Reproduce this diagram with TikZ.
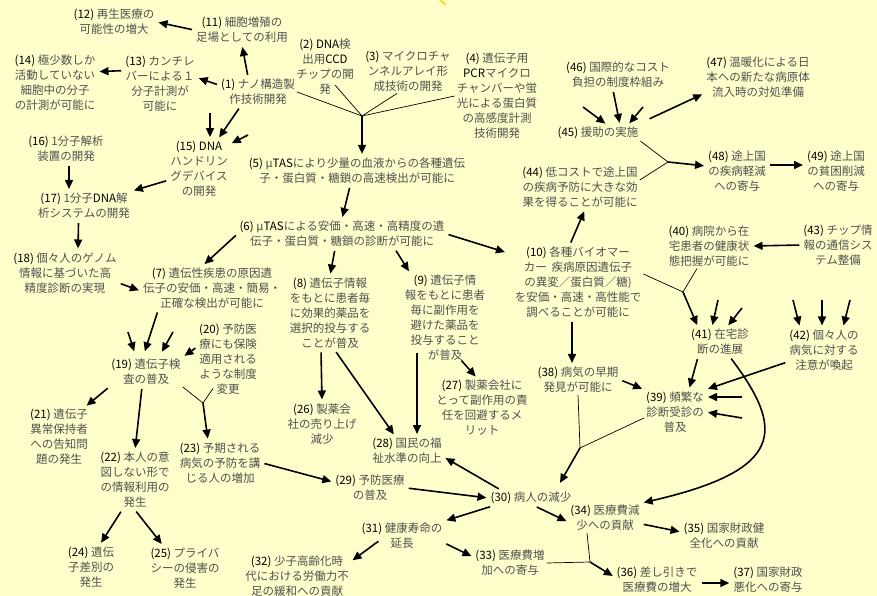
\documentclass[tikz,border=0pt]{standalone}
\usepackage{fontspec}
\setmainfont{Noto Sans CJK JP}
\usetikzlibrary{arrows.meta}
\definecolor{bgyellow}{RGB}{255,255,204}
\definecolor{txtgray}{RGB}{80,80,80}
\definecolor{marky}{RGB}{255,210,0}
\newcommand{\lbl}[1]{\textcolor{black}{(#1)}}
\newcommand{\en}[1]{\textcolor{black}{#1}}

\begin{document}
\begin{tikzpicture}[x=1pt, y=-1pt,
  box/.style={align=center, inner sep=2pt, text=txtgray,
    font=\fontsize{11.5}{15}\selectfont},
  arr/.style={-{Triangle[length=9pt,width=8pt]}, line width=1.6pt,
    shorten >=2pt, shorten <=2pt},
  fork/.style={line width=0.7pt}
]
  \fill[bgyellow] (0,0) rectangle (877,596);
  \useasboundingbox (0,0) rectangle (877,596);
  \draw[marky, line width=1.5pt] (440,0) -- (446,5);

  % --- Technology seeds ---
  \node[box] (n1)  at (258,92)  {\lbl{1} ナノ構造製\\作技術開発};
  \node[box] (n2)  at (325,67)  {\lbl{2} \en{DNA}検\\出用\en{CCD}\\チップの開\\発};
  \node[box] (n3)  at (408,71)  {\lbl{3} マイクロチャ\\ンネルアレイ形\\成技術の開発};
  \node[box] (n4)  at (497,96)  {\lbl{4} 遺伝子用\\\en{PCR}マイクロ\\チャンバーや蛍\\光による蛋白質\\の高感度計測\\技術開発};
  \node[box] (n5)  at (357,171) {\lbl{5} μ\en{TAS}により少量の血液からの各種遺伝\\子・蛋白質・糖鎖の高速検出が可能に};
  \node[box] (n6)  at (342,234) {\lbl{6} μ\en{TAS}による安価・高速・高精度の遺\\伝子・蛋白質・糖鎖の診断が可能に};

  % --- Upper left ---
  \node[box] (n11) at (242,30)  {\lbl{11} 細胞増殖の\\足場としての利用};
  \node[box] (n12) at (114,22)  {\lbl{12} 再生医療の\\可能性の増大};
  \node[box] (n13) at (160,84)  {\lbl{13} カンチレ\\バーによる１\\分子計測が\\可能に};
  \node[box] (n14) at (55,83)   {\lbl{14} 極少数しか\\活動していない\\細胞中の分子\\の計測が可能に};
  \node[box] (n15) at (199,169) {\lbl{15} \en{DNA}\\ハンドリン\\グデバイス\\の開発};
  \node[box] (n16) at (66,149)  {\lbl{16} 1分子解析\\装置の開発};
  \node[box] (n17) at (84,206)  {\lbl{17} 1分子\en{DNA}解\\析システムの開発};
  \node[box] (n18) at (65,273)  {\lbl{18} 個々人のゲノム\\情報に基づいた高\\精度診断の実現};

  % --- Gene diagnosis ---
  \node[box] (n7)  at (212,288) {\lbl{7} 遺伝性疾患の原因遺\\伝子の安価・高速・簡易・\\正確な検出が可能に};
  \node[box] (n8)  at (330,313) {\lbl{8} 遺伝子情報\\をもとに患者毎\\に効果的薬品を\\選択的投与する\\ことが普及};
  \node[box] (n9)  at (445,318) {\lbl{9} 遺伝子情\\報をもとに患者\\毎に副作用を\\避けた薬品を\\投与すること\\が普及};
  \node[box] (n19) at (146,372) {\lbl{19} 遺伝子検\\査の普及};
  \node[box] (n20) at (228,359) {\lbl{20} 予防医\\療にも保険\\適用される\\ような制度\\変更};
  \node[box] (n21) at (59,437)  {\lbl{21} 遺伝子\\異常保持者\\への告知問\\題の発生};
  \node[box] (n22) at (135,480) {\lbl{22} 本人の意\\図しない形で\\の情報利用の\\発生};
  \node[box] (n23) at (220,463) {\lbl{23} 予期される\\病気の予防を講\\じる人の増加};
  \node[box] (n24) at (91,567)  {\lbl{24} 遺伝\\子差別の\\発生};
  \node[box] (n25) at (185,568) {\lbl{25} プライバ\\シーの侵害の\\発生};
  \node[box] (n26) at (322,424) {\lbl{26} 製薬会\\社の売り上げ\\減少};
  \node[box] (n27) at (482,408) {\lbl{27} 製薬会社に\\とって副作用の責\\任を回避するメ\\リット};
  \node[box] (n28) at (407,451) {\lbl{28} 国民の福\\祉水準の向上};
  \node[box] (n29) at (370,488) {\lbl{29} 予防医療\\の普及};

  % --- Lower middle ---
  \node[box] (n30) at (531,498) {\lbl{30} 病人の減少};
  \node[box] (n31) at (402,536) {\lbl{31} 健康寿命の\\延長};
  \node[box] (n32) at (297,576) {\lbl{32} 少子高齢化時\\代における労働力不\\足の緩和への貢献};
  \node[box] (n33) at (510,563) {\lbl{33} 医療費増\\加への寄与};
  \node[box] (n34) at (605,518) {\lbl{34} 医療費減\\少への貢献};
  \node[box] (n35) at (724,536) {\lbl{35} 国家財政健\\全化への貢献};
  \node[box] (n36) at (657,580) {\lbl{36} 差し引きで\\医療費の増大};
  \node[box] (n37) at (768,580) {\lbl{37} 国家財政\\悪化への寄与};

  % --- Right side ---
  \node[box] (n10) at (578,282) {\lbl{10} 各種バイオマー\\カー\hspace{5pt}疾病原因遺伝子\\の異変／蛋白質／糖)\\を安価・高速・高性能で\\調べることが可能に};
  \node[box] (n38) at (578,380) {\lbl{38} 病気の早期\\発見が可能に};
  \node[box] (n39) at (675,412) {\lbl{39} 頻繁な\\診断受診の\\普及};
  \node[box] (n40) at (709,246) {\lbl{40} 病院から在\\宅患者の健康状\\態把握が可能に};
  \node[box] (n41) at (720,342) {\lbl{41} 在宅診\\断の進展};
  \node[box] (n42) at (824,350) {\lbl{42} 個々人の\\病気に対する\\注意が喚起};
  \node[box] (n43) at (838,245) {\lbl{43} チップ情\\報の通信シス\\テム整備};
  \node[box] (n44) at (580,187) {\lbl{44} 低コストで途上国\\の疾病予防に大きな効\\果を得ることが可能に};
  \node[box] (n45) at (598,133) {\lbl{45} 援助の実施};
  \node[box] (n46) at (618,75)  {\lbl{46} 国際的なコスト\\負担の制度枠組み};
  \node[box] (n47) at (758,77)  {\lbl{47} 温暖化による日\\本への新たな病原体\\流入時の対処準備};
  \node[box] (n48) at (737,171) {\lbl{48} 途上国\\の疾病軽減\\への寄与};
  \node[box] (n49) at (836,171) {\lbl{49} 途上国\\の貧困削減\\への寄与};

  % --- Junctions and loose arrow tails ---
  \coordinate (j5)  at (362,116);
  \coordinate (j23) at (203,403);
  \coordinate (j30) at (580,448);
  \coordinate (j36) at (590,562);
  \coordinate (j41) at (683,292);
  \coordinate (j48) at (668,162);
  \coordinate (f15a) at (210,113);
  \coordinate (f15b) at (248,135);
  \coordinate (f19a) at (128,332);
  \coordinate (f19b) at (173,332);
  \coordinate (f39a) at (742,397);
  \coordinate (f39b) at (742,418);
  \coordinate (f41a) at (718,300);
  \coordinate (f41b) at (742,308);
  \coordinate (f42a) at (793,300);
  \coordinate (f42b) at (822,300);
  \coordinate (f42c) at (850,300);
  \coordinate (f45a) at (583,107);
  \coordinate (f45c) at (643,107);

  % --- Forks ---
  \draw[fork] (n1.east) -- (j5);
  \draw[fork] ([xshift=10pt,yshift=12pt]n2.south) -- (j5);
  \draw[fork] ([xshift=-11pt]n3.south) -- (j5);
  \draw[fork] (n4.west) -- (j5);
  \draw[arr, shorten <=0pt] (j5) -- (j5 |- n5.north);

  \draw[fork] (n19.south east) -- (j23);
  \draw[fork] ([xshift=-15pt,yshift=8pt]n20.south) -- (j23);
  \draw[arr, shorten <=0pt] (j23) -- ([xshift=-12pt]n23.north);

  \draw[fork] (n38.south) -- (j30);
  \draw[fork] ([yshift=-6pt]n39.west) -- (j30);
  \draw[arr, shorten <=0pt, shorten >=8pt] (j30) -- ([xshift=25pt]n30.north);

  \draw[fork] (n33.east) -- (j36);
  \draw[fork] ([xshift=-18pt]n34.south) -- (j36);
  \draw[arr, shorten <=0pt] (j36) -- ([yshift=3pt]n36.west);

  \draw[fork] ([yshift=8pt]n10.east) -- (j41);
  \draw[fork] ([xshift=-12pt]n40.south) -- (j41);
  \draw[arr, shorten <=0pt] (j41) -- ([xshift=-22pt]n41.north);

  \draw[fork] (n45.south east) -- (j48);
  \draw[fork] ([yshift=7pt]n44.east) -- (j48);
  \draw[arr, shorten <=0pt] (j48) -- ([yshift=5pt]n48.west);

  % --- Upper left arrows ---
  \draw[arr] (n11.west) -- (n12.east);
  \draw[arr] ([xshift=-10pt]n1.north) -- (n11.south);
  \draw[arr] (n1.170) -- (n13.10);
  \draw[arr] (n13.160) -- (n14.15);
  \draw[arr, shorten <=0pt] (f15a) -- (f15a |- n15.north);
  \draw[arr] ([xshift=-18pt]n1.south) -- ([xshift=19pt]n15.north);
  \draw[arr, shorten <=0pt] (f15b) -- ([yshift=-5pt]n15.north east);
  \draw[arr] (n15.200) -- (n17.north east);
  \draw[arr] ([xshift=3pt]n16.south) -- ([xshift=-15pt]n17.north);
  \draw[arr] (n17.250) -- (n18.60);
  \draw[arr] ([yshift=-10pt]n18.east) -- ([yshift=-3pt]n7.west);

  % --- Middle arrows ---
  \draw[arr] ([xshift=-7pt]n5.south) -- (n6.north);
  \draw[arr] (n6.west) -- ([xshift=-9pt]n7.north);
  \draw[arr] ([xshift=-7pt]n6.south) -- (n8.north);
  \draw[arr] ([xshift=53pt]n6.south) -- ([xshift=-35pt]n9.north);
  \draw[arr, shorten >=8pt] (n6.east) -- ([yshift=-10pt]n10.north west);
  \draw[arr] ([xshift=-9pt]n8.south) -- (n26.north);
  \draw[arr] ([xshift=5pt]n8.south) -- ([xshift=-12pt]n28.north);
  \draw[arr] ([xshift=-28pt,yshift=12pt]n9.south) -- ([xshift=10pt]n28.north);
  \draw[arr] ([xshift=15pt,yshift=4pt]n9.south) -- ([xshift=-5pt]n27.north);

  % --- Gene test ---
  \draw[arr, shorten >=6pt] ([xshift=-54pt]n7.south) -- ([xshift=-3pt]n19.north);
  \draw[arr, shorten <=0pt, shorten >=6pt] (f19a) -- ([xshift=-10pt]n19.north);
  \draw[arr, shorten <=0pt, shorten >=6pt] (f19b) -- ([xshift=13pt]n19.north);
  \draw[arr] ([yshift=12pt]n20.west) -- (n19.north east);
  \draw[arr] (n19.south west) -- ([xshift=-5pt]n21.north east);
  \draw[arr] ([xshift=-4pt]n19.south) -- (n22.north);
  \draw[arr] ([xshift=-13pt]n22.south) -- ([xshift=9pt]n24.north);
  \draw[arr] (n22.south) -- ([xshift=-22pt]n25.north);
  \draw[arr] (n23.east) -- ([yshift=6pt]n29.west);

  % --- Lower arrows ---
  \draw[arr] (n29.east) -- (n30.west);
  \draw[arr] ([xshift=12pt]n30.north west) -- ([yshift=-6pt]n28.east);
  \draw[arr] ([xshift=-39pt]n30.south) -- (n31.north east);
  \draw[arr] ([xshift=4pt]n30.south) -- ([yshift=-4pt]n34.west);
  \draw[arr] ([xshift=-22pt,yshift=11pt]n31.south) -- ([yshift=-8pt]n32.north east);
  \draw[arr] ([yshift=8pt]n31.south east) -- ([yshift=6pt]n33.west);
  \draw[arr] ([yshift=-6pt]n34.east) -- ([yshift=4pt]n35.west);
  \draw[arr] ([yshift=-3pt]n36.east) -- ([yshift=-3pt]n37.west);

  % --- Right side arrows ---
  \draw[arr] ([xshift=-8pt]n10.north) -- ([xshift=5pt]n44.south);
  \draw[arr] ([xshift=-6pt]n10.south) -- ([xshift=-6pt]n38.north);
  \draw[arr] (n38.east) -- (n39.north west);
  \draw[arr] ([xshift=-22pt]n41.south) -- ([xshift=14pt]n39.north);
  \draw[arr] ([yshift=-12pt]n42.west) -- (n39.north east);
  \draw[arr, shorten <=0pt] (f39a) -- (f39a -| n39.east);
  \draw[arr, shorten <=0pt] (f39b) -- (n39.east);
  \draw[arr, shorten <=0pt] (f41a) -- ([xshift=-8pt]n41.north);
  \draw[arr, shorten <=0pt] (f41b) -- ([xshift=7pt]n41.north);
  \draw[arr, shorten <=0pt] (f42a) -- ([xshift=-24pt]n42.north);
  \draw[arr, shorten <=0pt] (f42b) -- (f42b |- n42.north);
  \draw[arr, shorten <=0pt] (f42c) -- ([xshift=19pt]n42.north);
  \draw[arr] (n43.west) -- (n40.east);
  \draw[arr] ([xshift=10pt]n41.south) .. controls (785,430) and (785,470) .. (n34.north east);

  % --- Aid ---
  \draw[arr, shorten <=0pt] (f45a) -- ([xshift=9pt]n45.north);
  \draw[arr] ([xshift=-5pt]n46.south) -- ([xshift=22pt]n45.north);
  \draw[arr, shorten <=0pt] (f45c) -- ([xshift=30pt]n45.north);
  \draw[arr, shorten <=10pt] ([yshift=10pt]n45.east) -- ([yshift=6pt]n47.south west);
  \draw[arr] ([yshift=6pt]n48.east) -- ([yshift=6pt]n49.west);
\end{tikzpicture}
\end{document}
